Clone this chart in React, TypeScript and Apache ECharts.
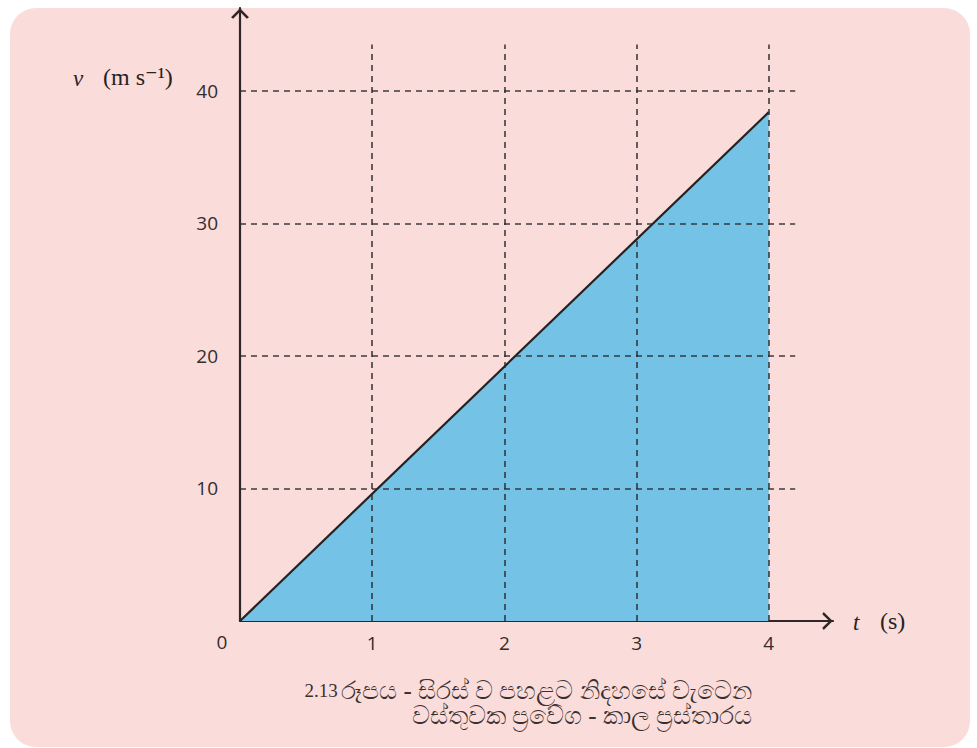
import React, { useEffect, useRef } from "react";
import * as echarts from "echarts";

// Data
const timeS = [0, 4];
const velocity = [0, 38.4];
const gridTimes = [1, 2, 3, 4];
const gridVelocities = [10, 20, 30, 40];
const gridTopVelocity = 43.5;
const gridRightTime = 4.2;
const xAxisMax = 4.486;
const yAxisMax = 46.26;

const yTitleVar = "v";
const yTitleUnit = "(m s\u207B\u00B9)";
const xTitleVar = "t";
const xTitleUnit = "(s)";
const originLabel = "0";
const captionNumber = "2.13";
const captionLine1 = "රූපය - සිරස් ව පහළට නිදහසේ වැටෙන";
const captionLine2 = "වස්තුවක ප්‍රවේග - කාල ප්‍රස්තාරය";

const chevron = "path://M0,10 L10,0 L20,10 L17.6,11.6 L10,3.8 L2.4,11.6 Z";

export default function App() {
  const ref = useRef<HTMLDivElement>(null);

  useEffect(() => {
    if (!ref.current) return;
    const chart = echarts.init(ref.current, undefined, { renderer: "svg" });

    const axisColor = "#2f2727";
    const tickFont = {
      fontFamily: "'Open Sans', 'Noto Sans', sans-serif",
      fontSize: 19,
      color: "#332d2d",
    };
    const serif = "'Liberation Serif', 'DejaVu Serif', serif";

    const markLineData: any[] = [];
    gridTimes.forEach((t) => {
      markLineData.push([{ coord: [t, 0] }, { coord: [t, gridTopVelocity] }]);
    });
    gridVelocities.forEach((v) => {
      markLineData.push([{ coord: [0, v] }, { coord: [gridRightTime, v] }]);
    });

    chart.setOption({
      animation: false,
      backgroundColor: "transparent",
      grid: { left: 240, right: 144, top: 8, bottom: 127 },
      xAxis: {
        type: "value",
        min: 0,
        max: xAxisMax,
        interval: 1,
        axisLine: {
          show: true,
          lineStyle: { color: axisColor, width: 2.2 },
          symbol: ["none", chevron],
          symbolSize: [18, 11],
          symbolOffset: [0, -5.5],
        },
        axisTick: { show: false },
        splitLine: { show: false },
        axisLabel: {
          ...tickFont,
          margin: 12,
          showMaxLabel: false,
          formatter: (v: number) => (v === 0 || v > 4 ? "" : String(v)),
        },
      },
      yAxis: {
        type: "value",
        min: 0,
        max: yAxisMax,
        interval: 10,
        axisLine: {
          show: true,
          lineStyle: { color: axisColor, width: 2.2 },
          symbol: ["none", chevron],
          symbolSize: [18, 11],
          symbolOffset: [0, -5.5],
        },
        axisTick: { show: false },
        splitLine: { show: false },
        axisLabel: {
          ...tickFont,
          margin: 22,
          showMaxLabel: false,
          formatter: (v: number) => (v === 0 || v > 40 ? "" : String(v)),
        },
      },
      series: [
        {
          type: "line",
          z: 2,
          data: timeS.map((t, i) => [t, velocity[i]]),
          showSymbol: false,
          symbol: "none",
          lineStyle: { color: "#262222", width: 2.2 },
          areaStyle: { color: "#74c3e6", opacity: 1 },
        },
        {
          type: "line",
          z: 4,
          data: [],
          markLine: {
            silent: true,
            symbol: ["none", "none"],
            label: { show: false },
            lineStyle: { color: "#2a2a2e", width: 1.6, type: [6, 5], opacity: 0.9 },
            data: markLineData,
          },
        },
      ],
      graphic: [
        {
          type: "text",
          x: 73,
          y: 78,
          style: {
            text: yTitleVar,
            font: `italic 23px ${serif}`,
            fill: "#2a2222",
            verticalAlign: "middle",
          },
        },
        {
          type: "text",
          x: 103,
          y: 77,
          style: {
            text: yTitleUnit,
            font: `24px ${serif}`,
            fill: "#2a2222",
            verticalAlign: "middle",
          },
        },
        {
          type: "text",
          x: 853,
          y: 622,
          style: {
            text: xTitleVar,
            font: `italic 23px ${serif}`,
            fill: "#2a2222",
            verticalAlign: "middle",
          },
        },
        {
          type: "text",
          x: 880,
          y: 621,
          style: {
            text: xTitleUnit,
            font: `24px ${serif}`,
            fill: "#2a2222",
            verticalAlign: "middle",
          },
        },
        {
          type: "text",
          x: 222,
          y: 642,
          style: {
            text: originLabel,
            font: `19px 'Open Sans', 'Noto Sans', sans-serif`,
            fill: "#332d2d",
            align: "center",
            verticalAlign: "middle",
          },
        },
        {
          type: "text",
          x: 752,
          y: 690,
          style: {
            text: `{n|${captionNumber}} {s|${captionLine1}}`,
            align: "right",
            verticalAlign: "middle",
            rich: {
              n: { font: `19px ${serif}`, fill: "#3a3030" },
              s: { font: `25px ${serif}`, fill: "#3a3030" },
            },
          },
        },
        {
          type: "text",
          x: 752,
          y: 715,
          style: {
            text: `{s|${captionLine2}}`,
            align: "right",
            verticalAlign: "middle",
            rich: {
              s: { font: `25px ${serif}`, fill: "#3a3030" },
            },
          },
        },
      ],
    });

    return () => chart.dispose();
  }, []);

  return (
    <div
      style={{
        position: "absolute",
        left: 0,
        top: 0,
        width: 977,
        height: 748,
        background: "#ffffff",
        overflow: "hidden",
      }}
    >
      <div
        style={{
          position: "absolute",
          left: 10,
          top: 8,
          width: 960,
          height: 739,
          borderRadius: 26,
          background: "#fadcda",
        }}
      />
      <div
        ref={ref}
        style={{ position: "absolute", left: 0, top: 0, width: 977, height: 748 }}
      />
    </div>
  );
}
